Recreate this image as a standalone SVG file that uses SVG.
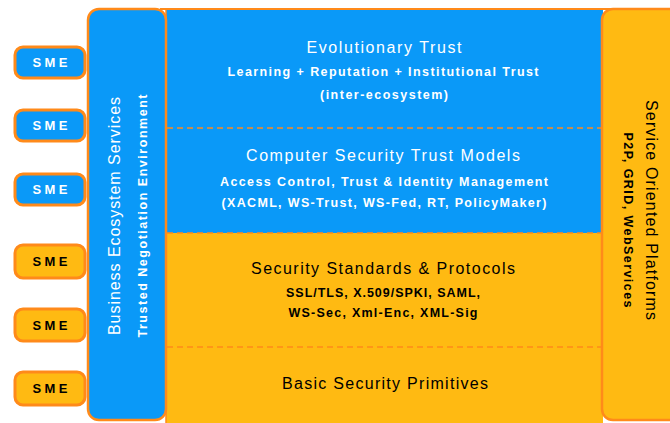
<svg xmlns="http://www.w3.org/2000/svg" width="670" height="423" viewBox="0 0 670 423">
<style>
.blue{fill:#0A99F8;stroke:#FF8A1A;stroke-width:2.5}
.yel{fill:#FFBA12;stroke:#FF8A1A;stroke-width:2.5}
.sme{stroke:#FF8A1A;stroke-width:3}
.t{font-family:"Liberation Sans",Arial,sans-serif;text-anchor:middle}
.w{fill:#fff}
.k{fill:#000}
.h{font-size:16px}
.s{font-size:12.5px;font-weight:bold}
.m{font-size:13px;font-weight:bold}
.dash{stroke:#FF8A1A;stroke-width:1.5;stroke-dasharray:6 4;fill:none}
</style>
<g id="center">
<rect x="166" y="9" width="437" height="224" fill="#0A99F8"/>
<rect x="166" y="233" width="437" height="192" fill="#FFBA12"/>
<line x1="160" y1="9" x2="670" y2="9" stroke="#FF8A1A" stroke-width="2"/>
<line x1="166" y1="9" x2="166" y2="423" stroke="#FF8A1A" stroke-width="1.5"/>
</g>
<g id="connectors">
<line class="dash" x1="167" y1="128" x2="601" y2="128"/>
<line class="dash" x1="167" y1="233" x2="601" y2="233"/>
<line class="dash" x1="167" y1="347" x2="601" y2="347"/>
</g>
<g id="evolutionary">
<text class="t w h" x="384" y="53" textLength="155">Evolutionary Trust</text>
<text class="t w s" x="383" y="76" textLength="311">Learning + Reputation + Institutional Trust</text>
<text class="t w s" x="384" y="99" textLength="128">(inter-ecosystem)</text>
</g>
<g id="computer">
<text class="t w h" x="383" y="161" textLength="274">Computer Security Trust  Models</text>
<text class="t w s" x="384" y="186" textLength="328">Access Control, Trust &amp; Identity Management</text>
<text class="t w s" x="384" y="207" textLength="325">(XACML, WS-Trust, WS-Fed, RT, PolicyMaker)</text>
</g>
<g id="standards">
<text class="t k h" x="383" y="274" textLength="264">Security Standards &amp; Protocols</text>
<text class="t k s" x="383" y="297" textLength="194">SSL/TLS, X.509/SPKI, SAML,</text>
<text class="t k s" x="383" y="317" textLength="189">WS-Sec, Xml-Enc, XML-Sig</text>
</g>
<g id="primitives">
<text class="t k h" x="385" y="389" textLength="206">Basic Security Primitives</text>
</g>
<g id="business">
<rect class="blue" x="88" y="9" width="78" height="411" rx="11"/>
<text class="t w h" transform="translate(120,216) rotate(-90)" textLength="238">Business Ecosystem Services</text>
<text class="t w s" transform="translate(147,216) rotate(-90)" textLength="243">Trusted Negotiation Environment</text>
</g>
<g id="platforms">
<rect class="yel" x="602" y="9" width="80" height="411" rx="11"/>
<text class="t k h" transform="translate(646,210) rotate(90)" textLength="220">Service Oriented Platforms</text>
<text class="t k s" transform="translate(624,220) rotate(90)" textLength="175">P2P, GRID, WebServices</text>
</g>
<g id="sme1"><rect class="sme" x="15" y="47" width="70" height="31" rx="8" fill="#0A99F8"/><text class="t w m" x="50" y="67" textLength="35">SME</text></g>
<g id="sme2"><rect class="sme" x="15" y="110" width="70" height="31" rx="8" fill="#0A99F8"/><text class="t w m" x="50" y="130" textLength="35">SME</text></g>
<g id="sme3"><rect class="sme" x="15" y="174" width="70" height="31" rx="8" fill="#0A99F8"/><text class="t w m" x="50" y="194" textLength="35">SME</text></g>
<g id="sme4"><rect class="sme" x="15" y="245" width="70" height="33" rx="8" fill="#FFBA12"/><text class="t k m" x="50" y="266" textLength="35">SME</text></g>
<g id="sme5"><rect class="sme" x="15" y="309" width="70" height="32" rx="8" fill="#FFBA12"/><text class="t k m" x="50" y="330" textLength="35">SME</text></g>
<g id="sme6"><rect class="sme" x="15" y="372" width="70" height="33" rx="8" fill="#FFBA12"/><text class="t k m" x="50" y="393" textLength="35">SME</text></g>
</svg>
